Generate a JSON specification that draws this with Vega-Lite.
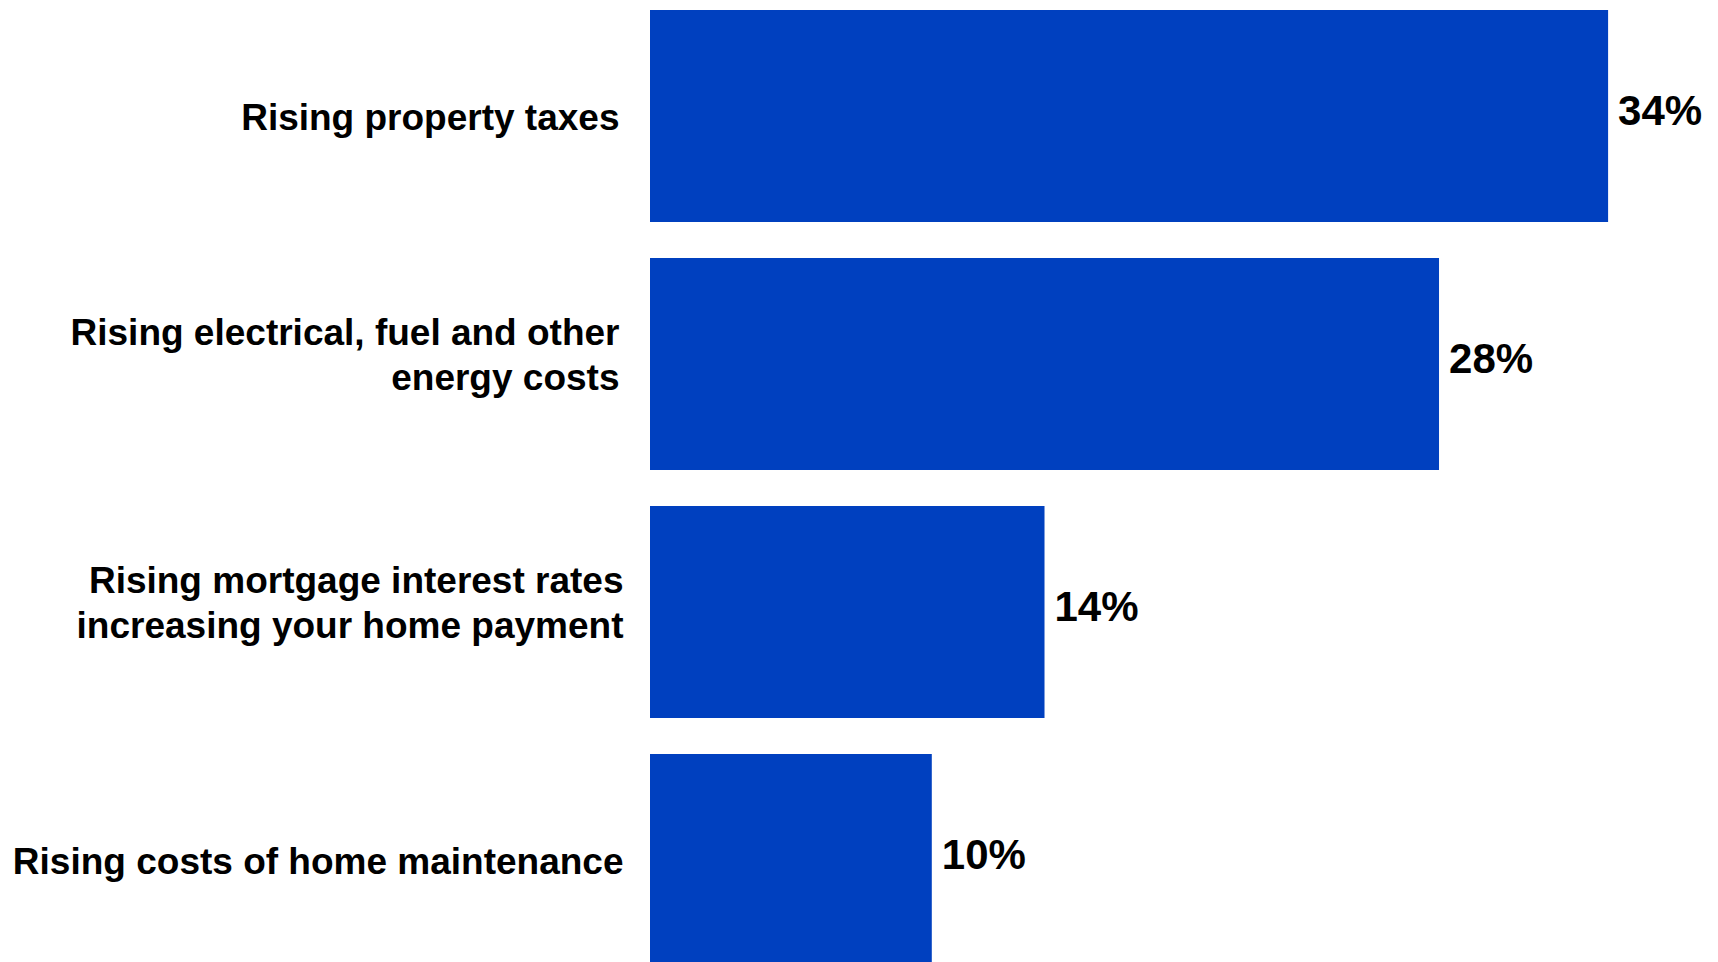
{
  "$schema": "https://vega.github.io/schema/vega-lite/v6.json",
  "width": 1068,
  "height": 962,
  "autosize": {"type": "none"},
  "padding": {"left": 650, "top": 0, "right": 0, "bottom": 0},
  "background": "white",
  "config": {"view": {"stroke": null}},
  "data": {
    "values": [
      {"cat": "Rising property taxes", "pct": 34, "label": "34%"},
      {"cat": "Rising electrical, fuel and other|energy costs", "pct": 28, "label": "28%"},
      {"cat": "Rising mortgage interest rates|increasing your home payment", "pct": 14, "label": "14%"},
      {"cat": "Rising costs of home maintenance", "pct": 10, "label": "10%"}
    ]
  },
  "encoding": {
    "y": {
      "field": "cat",
      "type": "nominal",
      "sort": null,
      "scale": {"range": [-8, 984], "paddingInner": 0.146, "paddingOuter": 0.073},
      "axis": {
        "title": null,
        "domain": false,
        "ticks": false,
        "labelPadding": {"condition": {"test": "indexof(datum.value, 'mortgage') >= 0 || indexof(datum.value, 'maintenance') >= 0", "value": 27}, "value": 31},
        "labelFontSize": 37,
        "labelFont": "Liberation Sans",
        "labelFontWeight": "bold",
        "labelColor": "black",
        "labelLimit": 700,
        "labelLineHeight": 45,
        "labelExpr": "split(datum.value, '|')",
        "labelOffset": {"condition": {"test": "indexof(datum.value, '|') >= 0", "value": -30}, "value": 3}
      }
    },
    "x": {
      "field": "pct",
      "type": "quantitative",
      "scale": {"domain": [0, 37.9]},
      "axis": null
    }
  },
  "layer": [
    {"mark": {"type": "bar", "color": "#0040BF", "clip": true}},
    {
      "mark": {"type": "text", "align": "left", "baseline": "middle", "dx": 10, "dy": -4, "fontSize": 42, "fontWeight": "bold", "font": "Liberation Sans", "color": "black"},
      "encoding": {"text": {"field": "label"}}
    }
  ]
}
